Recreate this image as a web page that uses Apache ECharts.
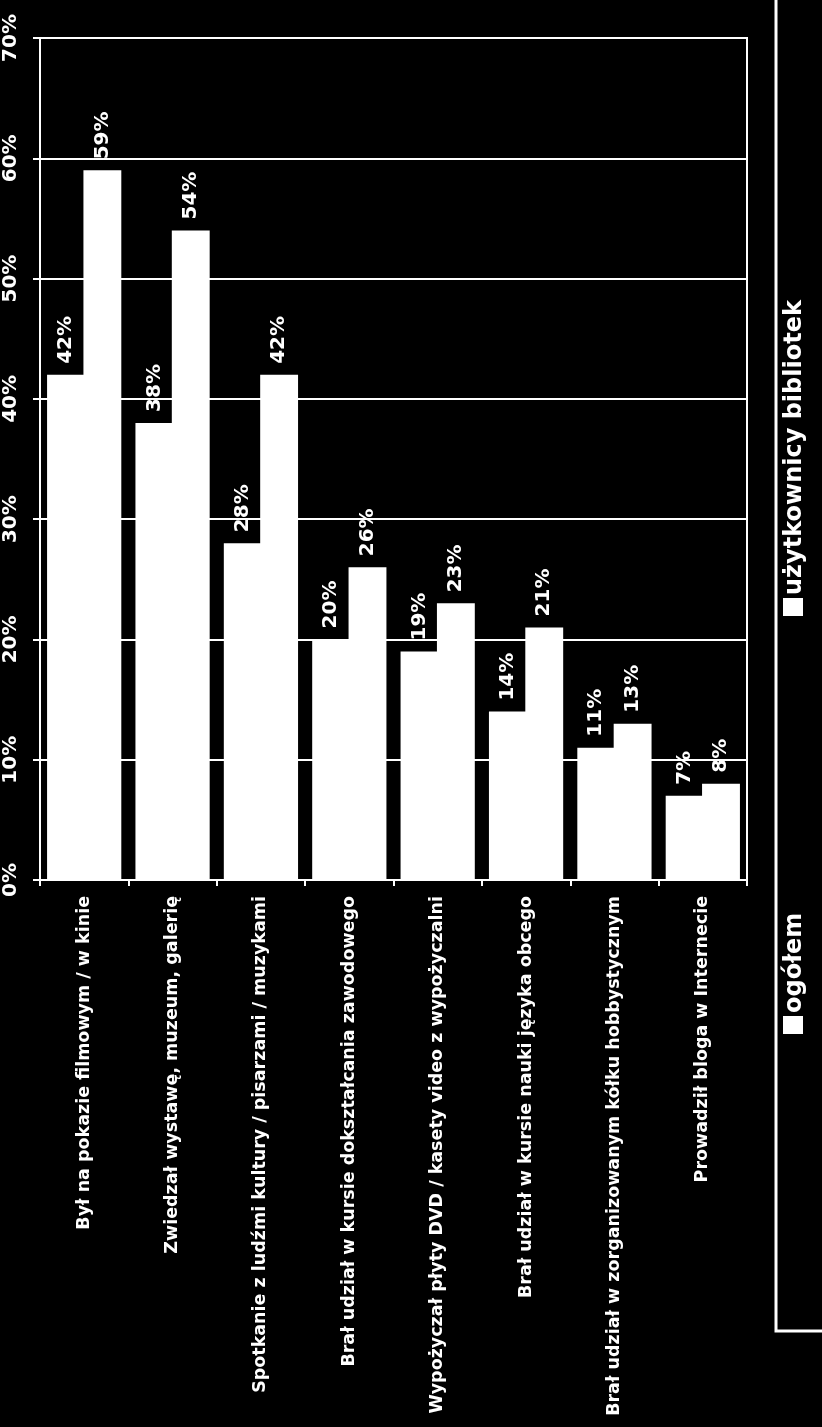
<!DOCTYPE html>
<html>
<head>
<meta charset="utf-8">
<script src="https://cdn.jsdelivr.net/npm/echarts@6/dist/echarts.min.js"></script>
<style>
html,body{margin:0;padding:0;background:#000;}
#c{width:822px;height:1427px;}
</style>
</head>
<body>
<div id="c"></div>
<script>
var categories = [
  "Był na pokazie filmowym / w kinie",
  "Zwiedzał wystawę, muzeum, galerię",
  "Spotkanie z ludźmi kultury / pisarzami / muzykami",
  "Brał udział w kursie dokształcania zawodowego",
  "Wypożyczał płyty DVD / kasety video z wypożyczalni",
  "Brał udział w kursie nauki języka obcego",
  "Brał udział w zorganizowanym kółku hobbystycznym",
  "Prowadził bloga w Internecie"
];
var seriesNames = ["ogółem", "użytkownicy bibliotek"];
var ogolem = [42, 38, 28, 20, 19, 14, 11, 7];
var uzytkownicy = [59, 54, 42, 26, 23, 21, 13, 8];
var yTicks = [0, 10, 20, 30, 40, 50, 60, 70];

var FONT = '"DejaVu Sans", Verdana, sans-serif';
var chart = echarts.init(document.getElementById('c'));

var labelCfg = {
  show: true,
  position: 'top',
  rotate: 90,
  align: 'left',
  verticalAlign: 'middle',
  distance: 11,
  formatter: '{c}%',
  color: '#fff',
  fontFamily: FONT,
  fontWeight: 'bold',
  fontSize: 20
};

function legendItem(name, xText, yStart) {
  return {
    type: 'group',
    children: [
      {
        type: 'rect',
        shape: {x: xText - 12, y: yStart + 3, width: 20, height: 18},
        style: {fill: '#fff'}
      },
      {
        type: 'text',
        x: xText,
        y: yStart,
        rotation: Math.PI / 2,
        style: {
          text: name,
          fill: '#fff',
          font: 'bold 24px ' + FONT,
          align: 'left',
          verticalAlign: 'middle'
        }
      }
    ]
  };
}

chart.setOption({
  backgroundColor: '#000',
  animation: false,
  grid: {
    left: 40, right: 75, top: 38, bottom: 547,
    show: true, borderColor: '#fff', borderWidth: 2, backgroundColor: 'transparent'
  },
  xAxis: {
    type: 'category',
    data: categories,
    axisLine: {show: true, lineStyle: {color: '#fff', width: 2}},
    axisTick: {show: true, length: 6, lineStyle: {color: '#fff', width: 2}},
    axisLabel: {
      interval: 0, rotate: 90, margin: 16,
      color: '#fff', fontFamily: FONT, fontWeight: 'bold', fontSize: 17.5
    }
  },
  yAxis: {
    type: 'value',
    min: yTicks[0], max: yTicks[yTicks.length - 1], interval: 10,
    axisLine: {show: true, lineStyle: {color: '#fff', width: 2}},
    axisTick: {show: true, length: 7, lineStyle: {color: '#fff', width: 2}},
    splitLine: {show: true, lineStyle: {color: '#fff', width: 2}},
    axisLabel: {
      formatter: '{value}%', rotate: 90, margin: 19,
      color: '#fff', fontFamily: FONT, fontWeight: 'bold', fontSize: 20
    }
  },
  legend: {show: false},
  series: [
    {
      name: seriesNames[0], type: 'bar', data: ogolem,
      barGap: '-4%', barCategoryGap: '16%',
      itemStyle: {color: '#fff'},
      label: labelCfg
    },
    {
      name: seriesNames[1], type: 'bar', data: uzytkownicy,
      barGap: '-4%', barCategoryGap: '16%',
      itemStyle: {color: '#fff'},
      label: labelCfg
    }
  ],
  graphic: [
    {
      type: 'polyline',
      shape: {points: [[776, 0], [776, 1331], [822, 1331]]},
      style: {stroke: '#fff', lineWidth: 3, fill: null}
    },
    legendItem(seriesNames[1], 795, 595),
    legendItem(seriesNames[0], 795, 1013)
  ]
});
</script>
</body>
</html>
